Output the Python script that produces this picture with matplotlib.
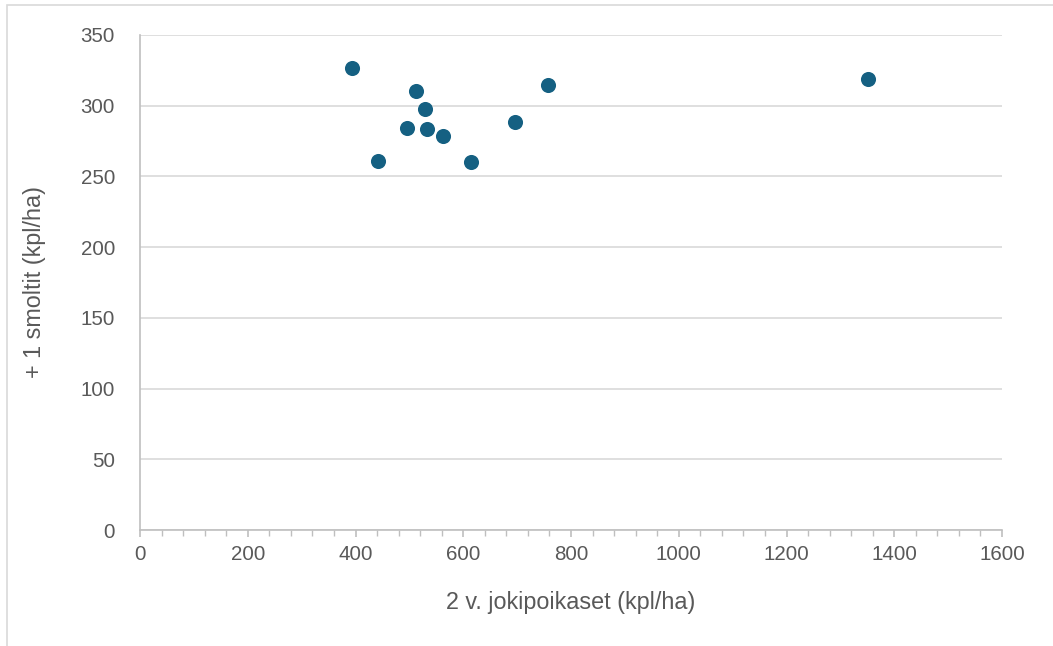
import matplotlib
matplotlib.use("Agg")
from matplotlib import pyplot as plt
from matplotlib.patches import Rectangle
from matplotlib.ticker import MultipleLocator

# 2 v. jokipoikaset vs. +1 smoltit (kpl/ha)
jokipoikaset = [393, 442, 512, 495, 529, 533, 562, 614, 696, 757, 1351]
smoltit = [327, 261, 310.5, 284, 298, 283.5, 278.5, 260.5, 288.5, 314.5, 319]

xticks = [0, 200, 400, 600, 800, 1000, 1200, 1400, 1600]
yticks = [0, 50, 100, 150, 200, 250, 300, 350]

txt = "#595959"
plt.rcParams['font.family'] = ['Liberation Sans', 'DejaVu Sans']

fig = plt.figure(figsize=(10.53, 6.46), dpi=100)
ax = fig.add_axes([140/1053, 1 - 530/646, 862/1053, 495/646])

ax.scatter(jokipoikaset, smoltit, s=118, color="#156082", zorder=3, linewidths=0)

ax.set_xlim(0, 1600)
ax.set_ylim(0, 350)
ax.set_xticks(xticks)
ax.set_yticks(yticks)
ax.xaxis.set_minor_locator(MultipleLocator(40))

ax.grid(axis="y", color="#d9d9d9", lw=1.2)
ax.set_axisbelow(True)
for s in ["top", "right"]:
    ax.spines[s].set_visible(False)
ax.spines["left"].set_color("#bfbfbf")
ax.spines["bottom"].set_color("#bfbfbf")
ax.spines["left"].set_linewidth(1.2)
ax.spines["bottom"].set_linewidth(1.2)

ax.tick_params(axis="y", length=0, pad=18, labelsize=14.8, labelcolor=txt)
ax.tick_params(axis="x", which="major", length=5, width=1.2, color="#bfbfbf",
               pad=6, labelsize=14.8, labelcolor=txt)
ax.tick_params(axis="x", which="minor", length=4, width=1.0, color="#bfbfbf")

ax.set_xlabel("2 v. jokipoikaset (kpl/ha)", fontsize=16.8, color=txt, labelpad=19)
ax.set_ylabel("+ 1 smoltit (kpl/ha)", fontsize=16.8, color=txt, labelpad=25)

# chart area outline
fig.patches.append(Rectangle((7/1053, -0.1), 1.2, 1.1 - 5/646,
                             transform=fig.transFigure, fill=False,
                             edgecolor="#d9d9d9", lw=1.2))

fig.savefig("out.png", dpi=100, facecolor="white")
